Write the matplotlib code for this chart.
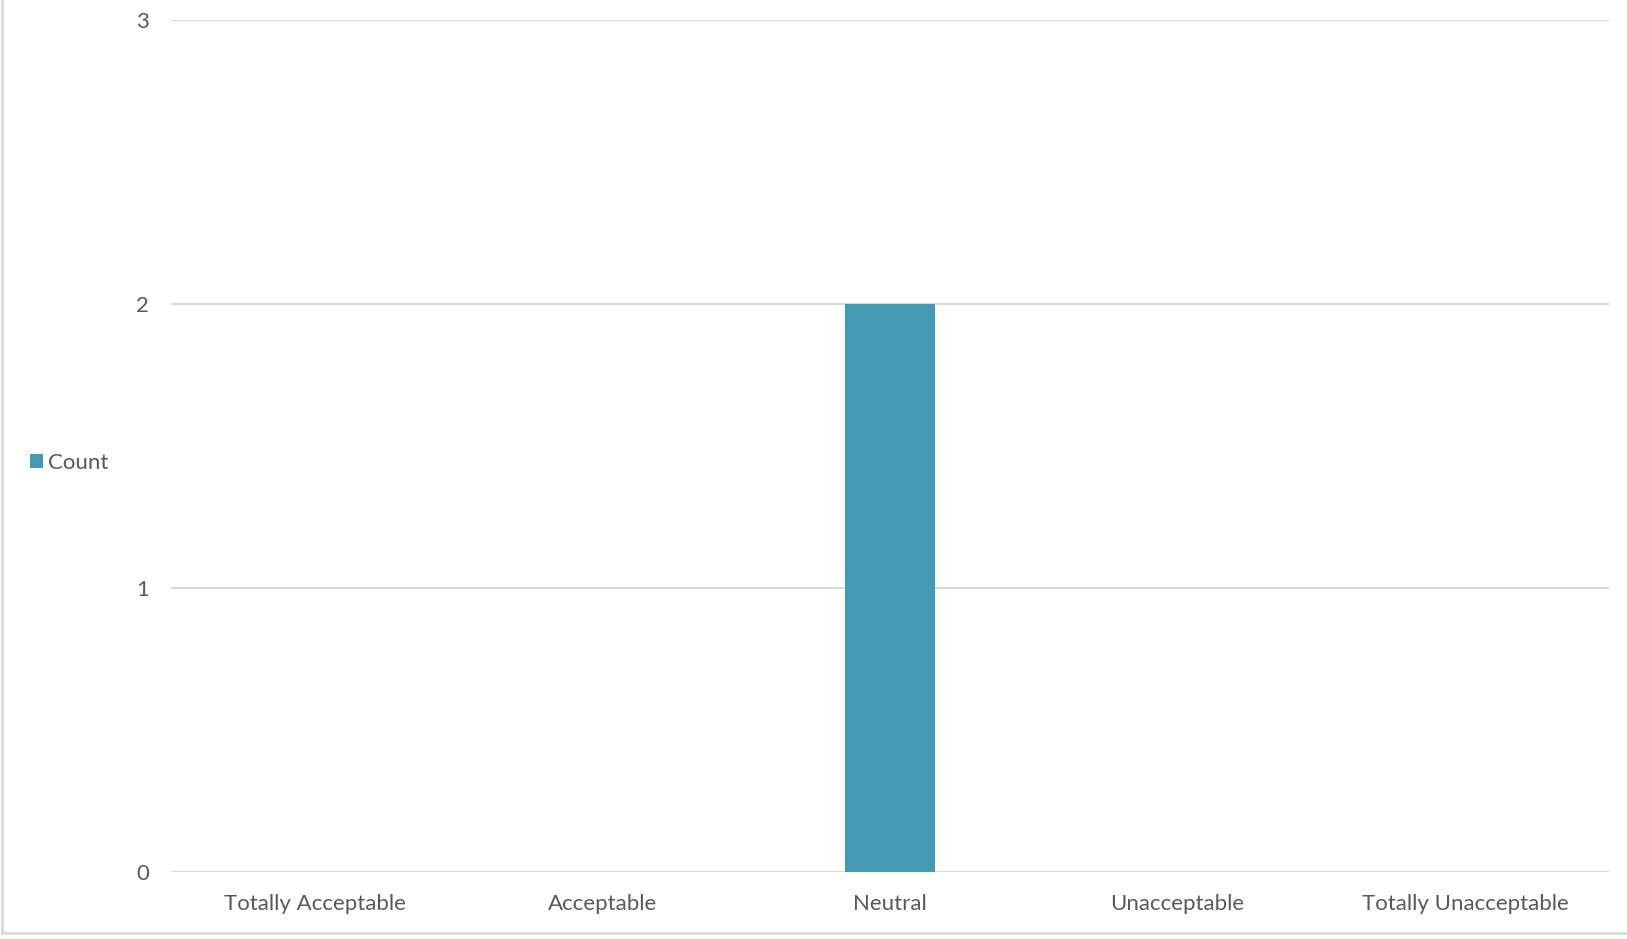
import matplotlib
matplotlib.use("Agg")
import matplotlib.pyplot as plt
from matplotlib.lines import Line2D
from matplotlib.patches import Patch

categories = ["Totally Acceptable", "Acceptable", "Neutral", "Unacceptable", "Totally Unacceptable"]
counts = [0, 0, 2, 0, 0]
series_name = "Count"
yticks = [0, 1, 2, 3]

W, H = 1627, 939
plt.rcParams['font.family'] = ['Lato', 'DejaVu Sans']
fig = plt.figure(figsize=(W / 100, H / 100), dpi=100)
ax = fig.add_axes([171 / W, (H - 872) / H, (1609 - 171) / W, (872 - 20) / H])

bar_color = "#4499b5"
text_color = "#595959"
grid_color = "#d9d9d9"
fs = 16

x = list(range(len(categories)))
ax.bar(x, counts, width=0.313, color=bar_color, zorder=3)
ax.set_xlim(-0.5, len(categories) - 0.5)
ax.set_ylim(0, 3)
ax.set_yticks(yticks)
ax.set_yticklabels([str(t) for t in yticks])
ax.set_xticks(x)
ax.set_xticklabels(categories)
ax.yaxis.grid(True, color=grid_color, linewidth=1.5, zorder=0)
ax.set_axisbelow(True)
for s in ax.spines.values():
    s.set_visible(False)
ax.tick_params(axis='both', length=0, colors=text_color, labelsize=fs)
ax.tick_params(axis='y', pad=16)
ax.tick_params(axis='x', pad=15.5)
ax.set_facecolor('white')

# legend
fig.legend(handles=[Patch(facecolor=bar_color, edgecolor='none', label=series_name)],
           loc='center left', bbox_to_anchor=(10 / W, (H - 463) / H), frameon=False,
           fontsize=fs, handlelength=0.6, handleheight=0.6, handletextpad=0.2,
           labelcolor=text_color)

# outer border (left and bottom only)
fig.add_artist(Line2D([2.0 / W, 2.0 / W], [(H - 933) / H, 1], transform=fig.transFigure,
                      color=grid_color, linewidth=2))
fig.add_artist(Line2D([2.0 / W, 1], [(H - 933) / H, (H - 933) / H], transform=fig.transFigure,
                      color=grid_color, linewidth=2))

fig.savefig("out.png", dpi=100, facecolor='white')
